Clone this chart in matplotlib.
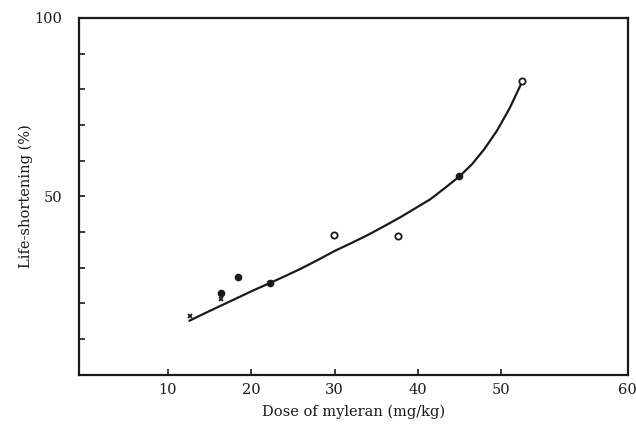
import matplotlib.pyplot as plt

# points
open_x = [29.9, 37.6, 52.5]
open_y = [39.3, 38.8, 82.3]
dot_x = [16.4, 18.4, 22.3, 45.0]
dot_y = [22.9, 27.5, 25.8, 55.6]
cross_x = [12.6, 16.4]
cross_y = [16.6, 21.3]

# fitted curve, hand traced
curve_x = [12.6, 15, 17, 20, 22.3, 24, 26, 28, 30, 32, 34, 36, 38, 40,
           41.5, 43, 45, 46.5, 48, 49.5, 51, 52.5]
curve_y = [15.2, 17.9, 20.1, 23.4, 25.8, 27.6, 29.8, 32.2, 34.7, 36.9, 39.2,
           41.7, 44.3, 47.1, 49.2, 51.9, 55.6, 59.0, 63.3, 68.4, 74.6, 82.0]

xticks = [10, 20, 30, 40, 50, 65.2]
xticklabels = ["10", "20", "30", "40", "50", "60"]

plt.rcParams["font.family"] = "DejaVu Serif"

fig = plt.figure(figsize=(6.36, 4.26), dpi=100)
ax = fig.add_axes([0.124, 0.120, 0.863, 0.838])

ax.plot(curve_x, curve_y, color="#1a1a1a", lw=1.6)
ax.plot(dot_x, dot_y, "o", color="#1a1a1a", ms=4.5)
ax.plot(open_x, open_y, "o", mfc="white", mec="#1a1a1a", mew=1.3, ms=4.5)
ax.plot(cross_x, cross_y, "x", color="#1a1a1a", ms=3.5, mew=1.3)

ax.set_xlim(-0.7, 65.2)
ax.set_ylim(0, 100)

ax.set_xticks(xticks)
ax.set_xticklabels(xticklabels)
ax.set_yticks(range(10, 101, 10))
ax.set_yticklabels(["" if v not in (50, 100) else str(v) for v in range(10, 101, 10)])

ax.tick_params(axis="both", direction="in", length=4, width=1.2,
               labelsize=10.5, colors="#1a1a1a")
ax.tick_params(axis="y", pad=12)
ax.tick_params(axis="x", pad=6)

for s in ax.spines.values():
    s.set_linewidth(1.6)
    s.set_color("#1a1a1a")

ax.set_xlabel("Dose of myleran (mg/kg)", fontsize=10.5, color="#1a1a1a", labelpad=5)
ax.set_ylabel("Life-shortening (%)", fontsize=10.5, color="#1a1a1a", labelpad=1)

plt.savefig("out.png", dpi=100)
